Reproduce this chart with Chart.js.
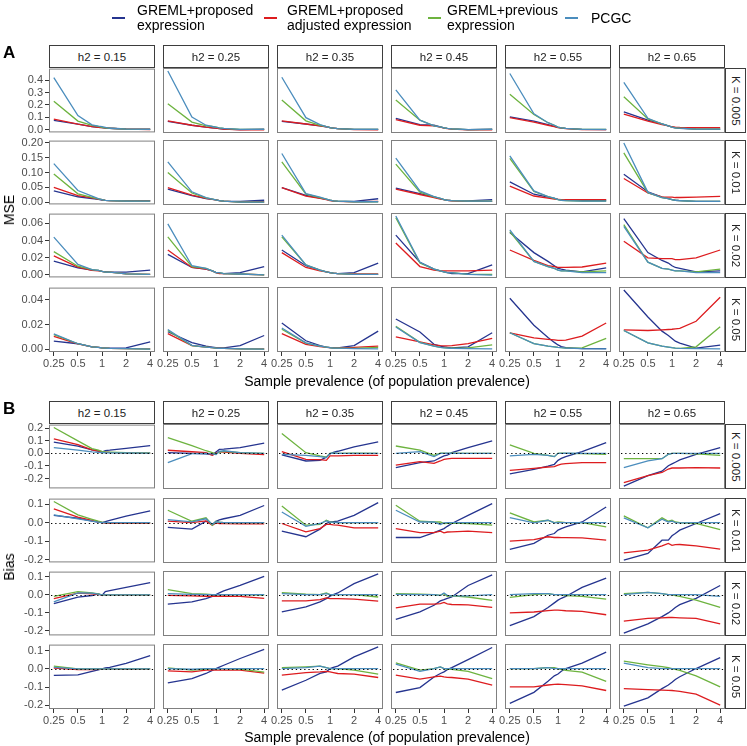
<!DOCTYPE html>
<html><head><meta charset="utf-8">
<script src="https://cdn.jsdelivr.net/npm/chart.js@4.4.1/dist/chart.umd.min.js"></script>
<style>
html,body{margin:0;padding:0;background:#fff}
#root{position:relative;width:747px;height:746px;overflow:hidden;font-family:"Liberation Sans",Arial,sans-serif}
#root canvas{position:absolute}
.t{position:absolute;white-space:nowrap;color:#000}
.strip{position:absolute;box-sizing:border-box;border:1px solid #3d3d3d;background:#fff;color:#222;font-size:11.5px;display:flex;align-items:center;justify-content:center;white-space:nowrap}
.vstrip{writing-mode:vertical-rl}
.lg-key{position:absolute;height:2px;width:13px}
.lg-txt{position:absolute;font-size:14px;line-height:15px;color:#000;white-space:nowrap}
</style></head><body><div id="root"></div>
<script>
// ---------------- data ----------------
const xValues = [0.25, 0.5, 0.75, 0.9, 1, 1.1, 1.25, 2, 4];
const xTicks = [0.25, 0.5, 1, 2, 4];
const h2Levels = ['0.15', '0.25', '0.35', '0.45', '0.55', '0.65'];
const kLevels = ['0.005', '0.01', '0.02', '0.05'];
const methodNames = ['GREML+proposed\nexpression', 'GREML+proposed\nadjusted expression', 'GREML+previous\nexpression', 'PCGC'];

const mseTicksK0005 = [0, 0.1, 0.2, 0.3, 0.4];
const mseTicksK001 = [0, 0.05, 0.10, 0.15, 0.20];
const mseTicksK002 = [0, 0.02, 0.04, 0.06];
const mseTicksK005 = [0, 0.01, 0.02, 0.03, 0.04];
const biasTicksK0005 = [-0.2, -0.1, 0, 0.1, 0.2];
const biasTicksOther = [-0.2, -0.1, 0, 0.1];

// MSE, K = 0.005 (one row per h2 level)
const mseK0005_proposed = [
  [0.075,0.045,0.025,0.02,0.017,0.014,0.012,0.006,0.004],
  [0.07,0.04,0.025,0.02,0.017,0.014,0.01,0.006,0.01],
  [0.07,0.05,0.035,0.028,0.022,0.018,0.013,0.007,0.008],
  [0.095,0.045,0.04,0.027,0.02,0.015,0.011,0.005,0.01],
  [0.107,0.072,0.045,0.032,0.024,0.019,0.015,0.007,0.006],
  [0.146,0.08,0.05,0.035,0.026,0.02,0.016,0.01,0.008]];
const mseK0005_adjusted = [
  [0.085,0.045,0.025,0.02,0.018,0.015,0.012,0.005,0.002],
  [0.075,0.04,0.025,0.02,0.017,0.014,0.01,0.004,0.003],
  [0.075,0.05,0.035,0.028,0.022,0.018,0.013,0.005,0.004],
  [0.085,0.04,0.035,0.025,0.018,0.014,0.01,0.004,0.004],
  [0.10,0.065,0.04,0.03,0.022,0.018,0.014,0.006,0.006],
  [0.128,0.073,0.045,0.035,0.028,0.025,0.022,0.02,0.02]];
const mseK0005_previous = [
  [0.23,0.07,0.035,0.027,0.02,0.015,0.012,0.005,0.003],
  [0.21,0.065,0.035,0.03,0.025,0.02,0.015,0.008,0.007],
  [0.24,0.075,0.04,0.03,0.022,0.018,0.014,0.007,0.007],
  [0.24,0.08,0.035,0.027,0.02,0.016,0.012,0.006,0.008],
  [0.285,0.125,0.06,0.04,0.025,0.02,0.015,0.008,0.008],
  [0.265,0.09,0.05,0.035,0.025,0.02,0.017,0.01,0.01]];
const mseK0005_pcgc = [
  [0.42,0.115,0.04,0.03,0.025,0.02,0.012,0.005,0.003],
  [0.47,0.105,0.04,0.03,0.025,0.02,0.015,0.008,0.008],
  [0.42,0.10,0.045,0.03,0.022,0.018,0.014,0.008,0.008],
  [0.32,0.08,0.035,0.027,0.02,0.016,0.012,0.006,0.008],
  [0.45,0.13,0.06,0.04,0.025,0.02,0.015,0.008,0.008],
  [0.38,0.095,0.05,0.035,0.025,0.02,0.017,0.01,0.01]];

// MSE, K = 0.01
const mseK001_proposed = [
  [0.038,0.018,0.012,0.009,0.007,0.006,0.005,0.004,0.005],
  [0.045,0.023,0.013,0.011,0.009,0.007,0.005,0.004,0.008],
  [0.05,0.024,0.015,0.011,0.008,0.006,0.004,0.004,0.013],
  [0.048,0.03,0.019,0.013,0.01,0.008,0.007,0.006,0.01],
  [0.069,0.028,0.018,0.014,0.011,0.01,0.009,0.008,0.008],
  [0.094,0.036,0.018,0.013,0.01,0.008,0.007,0.004,0.004]];
const mseK001_adjusted = [
  [0.05,0.022,0.014,0.01,0.008,0.006,0.005,0.003,0.004],
  [0.05,0.025,0.014,0.011,0.009,0.007,0.005,0.002,0.003],
  [0.05,0.022,0.014,0.01,0.007,0.005,0.004,0.003,0.004],
  [0.045,0.027,0.017,0.012,0.01,0.008,0.006,0.004,0.004],
  [0.055,0.022,0.015,0.012,0.011,0.01,0.01,0.01,0.01],
  [0.08,0.032,0.019,0.018,0.018,0.017,0.017,0.018,0.021]];
const mseK001_previous = [
  [0.095,0.028,0.016,0.011,0.008,0.006,0.005,0.003,0.003],
  [0.1,0.032,0.016,0.012,0.009,0.007,0.005,0.002,0.002],
  [0.135,0.028,0.017,0.012,0.008,0.006,0.005,0.003,0.003],
  [0.128,0.035,0.019,0.014,0.01,0.008,0.007,0.005,0.005],
  [0.147,0.037,0.02,0.014,0.01,0.008,0.007,0.005,0.005],
  [0.165,0.033,0.017,0.013,0.01,0.008,0.007,0.004,0.004]];
const mseK001_pcgc = [
  [0.13,0.039,0.02,0.012,0.008,0.006,0.005,0.003,0.003],
  [0.135,0.036,0.017,0.012,0.009,0.007,0.005,0.002,0.002],
  [0.163,0.03,0.018,0.012,0.008,0.006,0.005,0.003,0.003],
  [0.148,0.039,0.02,0.014,0.01,0.008,0.007,0.005,0.005],
  [0.155,0.039,0.02,0.015,0.01,0.008,0.007,0.005,0.005],
  [0.198,0.034,0.017,0.013,0.01,0.008,0.007,0.004,0.004]];

// MSE, K = 0.02
const mseK002_proposed = [
  [0.016,0.008,0.0055,0.005,0.004,0.0035,0.003,0.003,0.0055],
  [0.024,0.009,0.007,0.005,0.003,0.0025,0.002,0.003,0.01],
  [0.029,0.011,0.006,0.004,0.003,0.0025,0.002,0.003,0.014],
  [0.046,0.015,0.007,0.005,0.004,0.003,0.002,0.002,0.012],
  [0.049,0.026,0.016,0.011,0.008,0.007,0.006,0.004,0.0085],
  [0.065,0.026,0.017,0.014,0.011,0.009,0.008,0.004,0.005]];
const mseK002_adjusted = [
  [0.022,0.009,0.005,0.0045,0.004,0.003,0.003,0.001,0.0005],
  [0.029,0.009,0.007,0.005,0.003,0.002,0.002,0.0015,0.0005],
  [0.026,0.009,0.005,0.004,0.003,0.0025,0.002,0.0015,0.0015],
  [0.037,0.01,0.006,0.005,0.005,0.005,0.005,0.005,0.006],
  [0.029,0.017,0.011,0.01,0.009,0.009,0.009,0.0095,0.014],
  [0.039,0.02,0.019,0.019,0.019,0.018,0.018,0.02,0.029]];
const mseK002_previous = [
  [0.027,0.01,0.006,0.005,0.004,0.003,0.003,0.001,0.0005],
  [0.044,0.01,0.008,0.005,0.003,0.003,0.002,0.0015,0.0005],
  [0.044,0.012,0.006,0.004,0.003,0.0025,0.002,0.001,0.001],
  [0.066,0.014,0.007,0.005,0.004,0.003,0.003,0.001,0.001],
  [0.05,0.016,0.01,0.008,0.006,0.005,0.005,0.004,0.005],
  [0.058,0.015,0.008,0.007,0.006,0.005,0.005,0.004,0.007]];
const mseK002_pcgc = [
  [0.044,0.012,0.006,0.005,0.004,0.003,0.003,0.001,0.0005],
  [0.059,0.011,0.008,0.005,0.003,0.003,0.002,0.0015,0.0005],
  [0.046,0.012,0.006,0.004,0.003,0.0025,0.002,0.001,0.001],
  [0.068,0.015,0.007,0.005,0.004,0.003,0.003,0.001,0.0003],
  [0.052,0.016,0.01,0.008,0.006,0.005,0.005,0.003,0.003],
  [0.056,0.015,0.008,0.007,0.006,0.005,0.005,0.003,0.003]];

// MSE, K = 0.05
const mseK005_proposed = [
  [0.0066,0.0045,0.002,0.0015,0.0012,0.001,0.001,0.0012,0.006],
  [0.014,0.0053,0.0025,0.0017,0.0013,0.0012,0.0012,0.003,0.011],
  [0.021,0.0068,0.003,0.0018,0.0013,0.0011,0.0011,0.003,0.0145],
  [0.0242,0.0138,0.004,0.0025,0.002,0.0015,0.0012,0.002,0.0132],
  [0.0408,0.0192,0.0095,0.0055,0.0035,0.0022,0.0013,0.0005,0.0005],
  [0.0474,0.0258,0.0145,0.011,0.0087,0.0065,0.005,0.001,0.0034]];
const mseK005_adjusted = [
  [0.0105,0.0043,0.002,0.0015,0.0012,0.001,0.0008,0.0005,0.0003],
  [0.0125,0.003,0.0017,0.0013,0.001,0.0008,0.0007,0.0004,0.0003],
  [0.0125,0.004,0.0022,0.0016,0.0013,0.0012,0.0012,0.0015,0.0026],
  [0.01,0.006,0.0035,0.003,0.0028,0.0028,0.003,0.0045,0.0087],
  [0.0132,0.0092,0.008,0.0075,0.0071,0.0071,0.0073,0.0105,0.021],
  [0.0155,0.015,0.0155,0.0158,0.016,0.0163,0.0167,0.0224,0.0416]];
const mseK005_previous = [
  [0.0118,0.0045,0.002,0.0015,0.0012,0.001,0.0008,0.0005,0.0002],
  [0.015,0.003,0.0018,0.0013,0.001,0.0008,0.0007,0.0004,0.0002],
  [0.016,0.005,0.0025,0.0017,0.0013,0.001,0.001,0.0008,0.0015],
  [0.0184,0.0055,0.0025,0.0016,0.0013,0.0011,0.001,0.0012,0.0035],
  [0.0132,0.0045,0.0025,0.002,0.0016,0.0013,0.001,0.0012,0.0087],
  [0.015,0.0052,0.0025,0.0018,0.0013,0.001,0.0008,0.002,0.018]];
const mseK005_pcgc = [
  [0.0125,0.0045,0.002,0.0015,0.0012,0.001,0.0008,0.0005,0.0002],
  [0.0158,0.0032,0.0018,0.0013,0.001,0.0008,0.0007,0.0004,0.0002],
  [0.017,0.0052,0.0025,0.0017,0.0013,0.001,0.001,0.0006,0.0003],
  [0.0178,0.0053,0.0025,0.0015,0.0012,0.001,0.0008,0.0005,0.0003],
  [0.0132,0.0045,0.0025,0.002,0.0016,0.0013,0.001,0.0005,0.0004],
  [0.015,0.0052,0.0025,0.0018,0.0013,0.001,0.0008,0.0005,0.0004]];

// Bias, K = 0.005
const biasK0005_proposed = [
  [0.089,0.057,0.027,0.018,0.01,0.022,0.025,0.04,0.062],
  [0.005,0.0,-0.005,-0.012,0.01,0.03,0.032,0.045,0.08],
  [-0.013,-0.06,-0.055,-0.03,-0.005,0.008,0.016,0.05,0.09],
  [-0.112,-0.073,-0.06,-0.034,-0.02,-0.015,0.005,0.044,0.097],
  [-0.16,-0.125,-0.1,-0.086,-0.055,-0.04,-0.026,0.013,0.084],
  [-0.256,-0.175,-0.14,-0.097,-0.083,-0.07,-0.052,-0.008,0.044]];
const biasK0005_adjusted = [
  [0.115,0.07,0.028,0.018,0.012,0.01,0.008,0.004,0.002],
  [0.024,0.012,0.005,-0.015,0.0,0.012,0.01,0.0,-0.01],
  [0.013,-0.047,-0.05,-0.055,-0.02,-0.02,-0.02,-0.016,-0.016],
  [-0.092,-0.065,-0.078,-0.06,-0.047,-0.043,-0.04,-0.04,-0.04],
  [-0.133,-0.118,-0.107,-0.104,-0.092,-0.085,-0.081,-0.073,-0.073],
  [-0.23,-0.175,-0.15,-0.123,-0.115,-0.115,-0.115,-0.112,-0.115]];
const biasK0005_previous = [
  [0.206,0.10,0.038,0.025,0.015,0.012,0.01,0.005,0.003],
  [0.123,0.06,0.02,0.005,-0.005,0.01,0.015,0.005,0.0],
  [0.154,0.005,-0.02,-0.03,0.0,0.001,0.0,0.001,0.0],
  [0.057,0.025,-0.016,0.002,0.001,0.0,0.001,0.0,0.0],
  [0.065,0.0,-0.016,-0.026,0.0,0.001,0.0,-0.003,-0.008],
  [-0.042,-0.042,-0.042,-0.008,0.0,0.0,0.0,-0.005,-0.016]];
const biasK0005_pcgc = [
  [0.045,0.025,0.012,0.008,0.007,0.005,0.004,0.003,0.002],
  [-0.073,-0.002,0.0,-0.005,-0.01,0.015,0.02,0.005,0.0],
  [-0.008,-0.016,-0.026,-0.033,0.0,0.001,0.0,0.0,0.0],
  [0.0,0.013,-0.026,0.0,0.0,0.001,0.0,0.0,0.0],
  [-0.02,-0.008,-0.016,-0.026,0.0,0.0,0.001,0.0,0.0],
  [-0.112,-0.06,-0.042,-0.008,0.0,0.0,0.0,0.0,0.0]];

// Bias, K = 0.01
const biasK001_proposed = [
  [0.039,0.024,0.008,0.003,0.0,0.006,0.012,0.035,0.064],
  [-0.026,-0.035,0.007,-0.01,0.007,0.014,0.02,0.038,0.09],
  [-0.045,-0.075,-0.035,-0.005,0.003,0.005,0.007,0.038,0.105],
  [-0.079,-0.079,-0.053,-0.04,-0.032,-0.02,-0.005,0.038,0.1],
  [-0.142,-0.11,-0.067,-0.058,-0.04,-0.032,-0.023,0.003,0.082],
  [-0.198,-0.163,-0.093,-0.093,-0.07,-0.058,-0.04,-0.005,0.047]];
const biasK001_adjusted = [
  [0.074,0.03,0.012,0.005,0.0,-0.002,-0.003,-0.003,-0.003],
  [0.007,0.0,0.009,-0.014,-0.002,-0.005,-0.006,-0.007,-0.007],
  [-0.005,-0.049,-0.032,-0.01,-0.01,-0.012,-0.014,-0.028,-0.028],
  [-0.032,-0.053,-0.053,-0.045,-0.054,-0.05,-0.049,-0.045,-0.053],
  [-0.098,-0.09,-0.075,-0.079,-0.079,-0.08,-0.08,-0.081,-0.093],
  [-0.16,-0.146,-0.123,-0.11,-0.12,-0.117,-0.116,-0.123,-0.14]];
const biasK001_previous = [
  [0.114,0.042,0.018,0.008,0.003,0.001,0.0,0.0,0.0],
  [0.065,0.007,0.025,-0.014,0.007,0.002,0.0,0.0,0.0],
  [0.087,-0.014,-0.01,0.012,0.004,0.002,0.0,0.0,0.0],
  [0.091,0.007,0.003,0.003,-0.005,-0.004,-0.003,-0.005,-0.014],
  [0.051,0.003,0.012,0.0,0.003,0.002,0.0,0.0,-0.023],
  [0.035,-0.028,0.025,0.007,0.012,0.003,0.0,-0.005,-0.037]];
const biasK001_pcgc = [
  [0.042,0.021,0.009,0.003,0.0,0.0,0.0,0.0,0.0],
  [0.015,0.004,0.02,-0.01,0.004,0.002,0.0,0.0,0.0],
  [0.056,-0.02,-0.005,0.009,0.003,0.001,0.0,0.0,0.0],
  [0.065,0.003,0.003,-0.01,-0.002,0.0,0.0,0.0,0.0],
  [0.026,-0.002,0.012,-0.002,0.0,0.0,0.0,0.0,0.0],
  [0.025,-0.028,0.018,0.003,0.007,0.0,-0.002,0.0,0.0]];

// Bias, K = 0.02
const biasK002_proposed = [
  [-0.049,-0.013,-0.004,0.005,-0.004,0.018,0.023,0.041,0.068],
  [-0.052,-0.04,-0.022,-0.009,0.0,0.01,0.02,0.05,0.1],
  [-0.094,-0.067,-0.04,-0.022,-0.009,0.0,0.009,0.06,0.113],
  [-0.135,-0.094,-0.058,-0.034,-0.027,-0.02,-0.013,0.05,0.108],
  [-0.17,-0.12,-0.07,-0.045,-0.03,-0.02,-0.01,0.04,0.09],
  [-0.21,-0.16,-0.12,-0.1,-0.085,-0.07,-0.055,-0.02,0.05]];
const biasK002_adjusted = [
  [-0.022,0.009,0.005,0.002,0.0,0.0,0.0,0.0,0.0],
  [-0.004,-0.007,-0.009,-0.009,-0.009,-0.009,-0.009,-0.01,-0.02],
  [-0.034,-0.034,-0.027,-0.018,-0.022,-0.022,-0.022,-0.025,-0.036],
  [-0.072,-0.052,-0.052,-0.049,-0.043,-0.05,-0.054,-0.056,-0.07],
  [-0.1,-0.095,-0.088,-0.085,-0.085,-0.086,-0.088,-0.092,-0.11],
  [-0.145,-0.13,-0.127,-0.125,-0.125,-0.126,-0.127,-0.13,-0.16]];
const biasK002_previous = [
  [-0.009,0.018,0.011,0.005,0.0,0.0,0.0,0.0,0.0],
  [0.027,0.005,0.002,0.0,0.0,0.0,0.0,0.0,-0.002],
  [0.011,0.002,0.0,0.009,0.0,0.0,0.0,0.0,-0.013],
  [0.005,0.002,0.0,-0.004,0.005,-0.009,-0.007,-0.013,-0.031],
  [-0.015,0.0,0.005,0.0,0.0,0.0,-0.005,-0.01,-0.025],
  [0.005,0.012,0.005,0.0,0.0,-0.005,-0.01,-0.03,-0.07]];
const biasK002_pcgc = [
  [-0.04,0.011,0.009,0.004,0.0,0.0,0.0,0.0,0.0],
  [0.005,0.001,0.0,0.0,0.0,0.0,0.0,0.0,0.0],
  [0.005,0.0,0.0,0.005,0.0,0.0,0.0,0.0,0.0],
  [0.001,0.0,0.0,-0.004,0.009,-0.004,-0.007,-0.007,0.0],
  [0.0,0.005,0.005,0.0,0.0,0.0,0.0,0.0,0.0],
  [0.0,0.012,0.005,0.0,0.0,0.0,0.0,0.0,-0.01]];

// Bias, K = 0.05
const biasK005_proposed = [
  [-0.036,-0.033,-0.013,-0.005,0.0,0.005,0.009,0.031,0.073],
  [-0.078,-0.055,-0.027,-0.01,0.0,0.008,0.018,0.055,0.105],
  [-0.118,-0.064,-0.027,-0.018,0.0,0.006,0.013,0.064,0.118],
  [-0.131,-0.104,-0.046,-0.027,-0.018,-0.006,0.005,0.049,0.115],
  [-0.19,-0.13,-0.07,-0.04,-0.03,-0.015,0.0,0.03,0.09],
  [-0.205,-0.16,-0.11,-0.09,-0.075,-0.06,-0.045,0.0,0.06]];
const biasK005_adjusted = [
  [0.005,-0.004,-0.004,-0.002,0.0,0.0,0.0,-0.003,0.0],
  [-0.013,-0.018,-0.009,-0.009,-0.009,-0.009,-0.009,-0.009,-0.025],
  [-0.036,-0.022,-0.018,-0.015,-0.018,-0.022,-0.027,-0.031,-0.049],
  [-0.036,-0.058,-0.046,-0.042,-0.046,-0.048,-0.049,-0.058,-0.091],
  [-0.1,-0.1,-0.09,-0.087,-0.085,-0.086,-0.088,-0.095,-0.12],
  [-0.11,-0.115,-0.118,-0.119,-0.12,-0.122,-0.125,-0.14,-0.2]];
const biasK005_previous = [
  [0.015,0.0,0.0,0.0,0.0,0.0,0.0,0.0,0.0],
  [0.004,-0.009,-0.003,0.0,0.0,0.0,0.0,-0.003,-0.02],
  [0.005,0.009,0.013,0.005,0.0,0.0,0.0,-0.009,-0.031],
  [0.031,-0.009,0.0,0.009,0.0,-0.003,-0.005,-0.015,-0.055],
  [0.0,0.0,0.005,0.005,0.0,-0.005,-0.01,-0.02,-0.07],
  [0.04,0.02,0.01,0.005,0.0,-0.005,-0.01,-0.04,-0.1]];
const biasK005_pcgc = [
  [0.009,0.0,0.0,0.0,0.0,0.0,0.0,0.0,0.0],
  [0.0,-0.004,0.0,0.0,0.0,0.0,0.0,0.0,0.0],
  [0.0,0.005,0.013,0.005,0.0,0.0,0.0,0.0,0.0],
  [0.024,-0.015,0.0,0.009,0.0,0.0,0.0,0.0,0.0],
  [0.0,0.0,0.005,0.0,0.0,0.0,0.0,0.0,0.0],
  [0.03,0.005,0.0,0.0,0.0,0.0,0.0,0.0,0.0]];

// ---------------- style / layout ----------------
const COLORS = {proposed:'#25348f', adjusted:'#dd1c1f', previous:'#6db33f', pcgc:'#4b8dbd'};
const FONT = "'Liberation Sans', Arial, sans-serif";
const COL_LEFT = [49, 163, 277, 391, 505, 619];
const PW = 106, PH = 65, AXW = 49, RPAD = 8, XAXH = 22, VPAD = 8;
const A_ROW_TOP = [68, 140, 213, 287];
const B_ROW_TOP = [424, 498, 571, 644];
const XMIN = Math.pow(2, -2.2), XMAX = Math.pow(2, 2.2);

Chart.defaults.font.family = FONT;

const root = document.getElementById('root');
function addText(txt, css) {
  const d = document.createElement('div');
  d.className = 't';
  d.textContent = txt;
  Object.assign(d.style, css);
  root.appendChild(d);
  return d;
}

const framePlugin = {
  id: 'frame',
  afterDraw(chart) {
    const a = chart.chartArea, ctx = chart.ctx;
    ctx.save();
    ctx.strokeStyle = '#808080';
    ctx.lineWidth = 1;
    ctx.strokeRect(a.left + 0.5, a.top + 0.5, a.right - a.left - 1, a.bottom - a.top - 1);
    ctx.restore();
  }
};
const zeroPlugin = {
  id: 'zero',
  afterDatasetsDraw(chart, args, opts) {
    if (!opts.show) return;
    const a = chart.chartArea, ctx = chart.ctx;
    const y = Math.round(chart.scales.y.getPixelForValue(0)) + 0.5;
    ctx.save();
    ctx.strokeStyle = '#000';
    ctx.lineWidth = 1.2;
    ctx.setLineDash([1.3, 2.9]);
    ctx.beginPath();
    ctx.moveTo(a.left + 2, y);
    ctx.lineTo(a.right - 1, y);
    ctx.stroke();
    ctx.restore();
  }
};

function makePanel(rowTop, row, col, rowSpec, isBias) {
  const showX = row === 3, showY = col === 0;
  const cv = document.createElement('canvas');
  const bottomPad = showX ? 0 : VPAD;
  const w = AXW + PW + RPAD, h = VPAD + PH + (showX ? XAXH : 0) + bottomPad;
  cv.width = w; cv.height = h;
  cv.style.left = (COL_LEFT[col] - AXW) + 'px';
  cv.style.top = (rowTop - VPAD) + 'px';
  cv.style.width = w + 'px'; cv.style.height = h + 'px';
  root.appendChild(cv);

  // draw order: PCGC on top, then previous, adjusted, proposed
  const order = [['pcgc', rowSpec.pcgc], ['previous', rowSpec.previous], ['adjusted', rowSpec.adjusted], ['proposed', rowSpec.proposed]];
  const datasets = order.map(([key, arr]) => ({
    label: key,
    data: xValues.map((x, i) => ({x: x, y: arr[col][i]})),
    borderColor: COLORS[key],
    backgroundColor: COLORS[key],
    borderWidth: 1.3,
    pointRadius: 0,
    tension: 0,
    fill: false
  }));

  const tickStyle = {size: 11, family: FONT};
  new Chart(cv, {
    type: 'line',
    data: {datasets},
    plugins: [framePlugin, zeroPlugin],
    options: {
      responsive: false, animation: false, devicePixelRatio: 1,
      layout: {autoPadding: false, padding: {left: showY ? 0 : AXW, right: RPAD, top: VPAD, bottom: bottomPad}},
      plugins: {legend: {display: false}, tooltip: {enabled: false}, zero: {show: isBias}},
      scales: {
        x: {
          type: 'logarithmic', min: XMIN, max: XMAX, display: showX,
          afterBuildTicks: s => { s.ticks = xTicks.map(v => ({value: v})); },
          afterFit: s => { if (showX) s.height = XAXH; },
          ticks: {autoSkip: false, maxRotation: 0, minRotation: 0, padding: 1, font: tickStyle, color: '#4d4d4d',
                  callback: v => String(v)},
          grid: {display: true, drawOnChartArea: false, drawTicks: true, tickLength: 4, color: '#333333', lineWidth: 1},
          border: {display: false}
        },
        y: {
          type: 'linear', min: rowSpec.min, max: rowSpec.max, display: showY,
          afterBuildTicks: s => { s.ticks = rowSpec.ticks.map(v => ({value: v})); },
          afterFit: s => { if (showY) s.width = AXW; },
          ticks: {padding: 2, font: tickStyle, color: '#4d4d4d',
                  callback: v => (Math.abs(v) < 1e-12 ? 0 : v).toFixed(rowSpec.dec)},
          grid: {display: true, drawOnChartArea: false, drawTicks: true, tickLength: 4, color: '#333333', lineWidth: 1},
          border: {display: false}
        }
      }
    }
  });
}

function rowRange(spec) {
  let lo = Infinity, hi = -Infinity;
  [spec.proposed, spec.adjusted, spec.previous, spec.pcgc].forEach(m => m.forEach(a => a.forEach(v => { lo = Math.min(lo, v); hi = Math.max(hi, v); })));
  const pad = (hi - lo) * 0.05;
  spec.min = lo - pad; spec.max = hi + pad;
  return spec;
}

const mseRows = [
  {proposed: mseK0005_proposed, adjusted: mseK0005_adjusted, previous: mseK0005_previous, pcgc: mseK0005_pcgc, ticks: mseTicksK0005, dec: 1},
  {proposed: mseK001_proposed, adjusted: mseK001_adjusted, previous: mseK001_previous, pcgc: mseK001_pcgc, ticks: mseTicksK001, dec: 2},
  {proposed: mseK002_proposed, adjusted: mseK002_adjusted, previous: mseK002_previous, pcgc: mseK002_pcgc, ticks: mseTicksK002, dec: 2},
  {proposed: mseK005_proposed, adjusted: mseK005_adjusted, previous: mseK005_previous, pcgc: mseK005_pcgc, ticks: mseTicksK005, dec: 2}
].map(rowRange);
const biasRows = [
  {proposed: biasK0005_proposed, adjusted: biasK0005_adjusted, previous: biasK0005_previous, pcgc: biasK0005_pcgc, ticks: biasTicksK0005, dec: 1},
  {proposed: biasK001_proposed, adjusted: biasK001_adjusted, previous: biasK001_previous, pcgc: biasK001_pcgc, ticks: biasTicksOther, dec: 1},
  {proposed: biasK002_proposed, adjusted: biasK002_adjusted, previous: biasK002_previous, pcgc: biasK002_pcgc, ticks: biasTicksOther, dec: 1},
  {proposed: biasK005_proposed, adjusted: biasK005_adjusted, previous: biasK005_previous, pcgc: biasK005_pcgc, ticks: biasTicksOther, dec: 1}
].map(rowRange);

function buildBlock(rowTops, rows, isBias, stripTop, letter, letterTop, yTitle, xTitleTop) {
  rows.forEach((spec, r) => {
    for (let c = 0; c < 6; c++) makePanel(rowTops[r], r, c, spec, isBias);
  });
  // top strips
  h2Levels.forEach((h, c) => {
    const s = document.createElement('div');
    s.className = 'strip';
    s.textContent = 'h2 = ' + h;
    Object.assign(s.style, {left: COL_LEFT[c] + 'px', top: stripTop + 'px', width: PW + 'px', height: (rowTops[0] - stripTop) + 'px'});
    root.appendChild(s);
  });
  // right strips
  kLevels.forEach((k, r) => {
    const s = document.createElement('div');
    s.className = 'strip vstrip';
    s.textContent = 'K = ' + k;
    Object.assign(s.style, {left: (COL_LEFT[5] + PW) + 'px', top: rowTops[r] + 'px', width: '21px', height: PH + 'px'});
    root.appendChild(s);
  });
  addText(letter, {left: '3px', top: letterTop + 'px', fontSize: '17px', fontWeight: 'bold', lineHeight: '17px'});
  const yt = addText(yTitle, {fontSize: '14px', lineHeight: '14px'});
  const midY = (rowTops[0] + rowTops[3] + PH) / 2;
  yt.style.left = '9px'; yt.style.top = midY + 'px';
  yt.style.transform = 'translate(-50%,-50%) rotate(-90deg)';
  const xt = addText('Sample prevalence (of population prevalence)', {fontSize: '14px', lineHeight: '14px'});
  xt.style.left = ((COL_LEFT[0] + COL_LEFT[5] + PW) / 2) + 'px';
  xt.style.top = xTitleTop + 'px';
  xt.style.transform = 'translate(-50%,-50%)';
}

buildBlock(A_ROW_TOP, mseRows, false, 45, 'A', 44, 'MSE', 381);
buildBlock(B_ROW_TOP, biasRows, true, 401, 'B', 400, 'Bias', 737);

// legend (HTML)
const legendKeys = [112, 264, 428, 565];
const legendTexts = [137, 287, 447, 591];
['proposed', 'adjusted', 'previous', 'pcgc'].forEach((key, i) => {
  const k = document.createElement('div');
  k.className = 'lg-key';
  Object.assign(k.style, {left: legendKeys[i] + 'px', top: '17px', background: COLORS[key]});
  root.appendChild(k);
  const t = document.createElement('div');
  t.className = 'lg-txt';
  const lines = methodNames[i].split('\n');
  lines.forEach((ln, j) => { if (j) t.appendChild(document.createElement('br')); t.appendChild(document.createTextNode(ln)); });
  Object.assign(t.style, {left: legendTexts[i] + 'px', top: (lines.length > 1 ? 3 : 11) + 'px'});
  root.appendChild(t);
});
</script></body></html>
